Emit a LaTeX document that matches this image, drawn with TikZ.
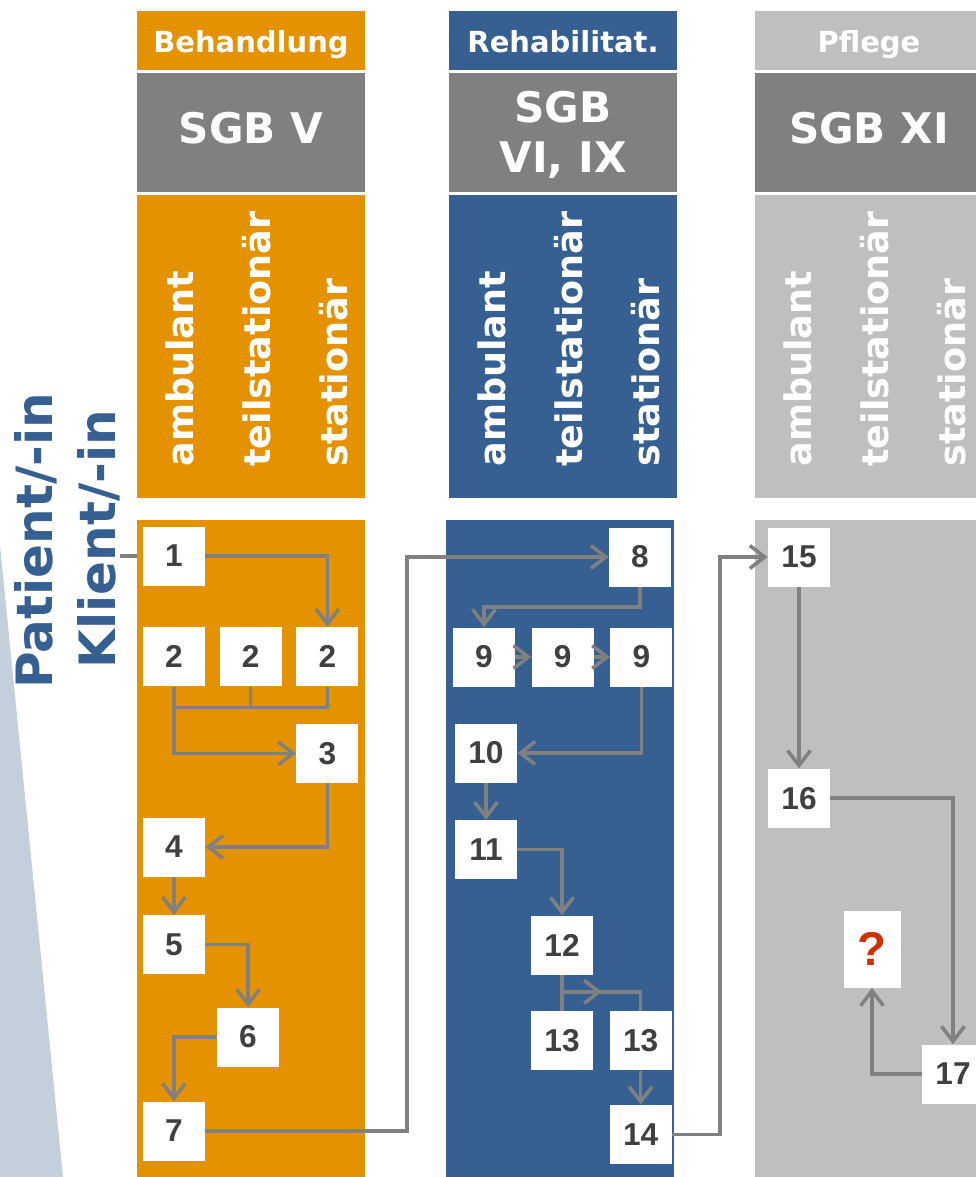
\documentclass[tikz,border=0pt]{standalone}
\usepackage{fontspec}
\setmainfont{DejaVu Sans}
\newfontfamily\numfont{Liberation Sans}
\usepackage{xcolor}
\usetikzlibrary{arrows.meta, positioning, calc, backgrounds}

\definecolor{behcol}{RGB}{229,146,0}
\definecolor{rehcol}{RGB}{54,96,146}
\definecolor{pflcol}{RGB}{191,191,191}
\definecolor{sgbcol}{RGB}{128,128,128}
\definecolor{wedgecol}{RGB}{195,207,219}
\definecolor{numcol}{RGB}{64,64,64}
\definecolor{linecol}{RGB}{128,128,128}
\definecolor{askcol}{RGB}{204,51,0}

\begin{document}
\begin{tikzpicture}[
  x=0.02cm, y=-0.02cm,
  node distance=0.74cm and 0.28cm,
  box/.style={fill=white, minimum width=1.24cm, minimum height=1.18cm, inner sep=0pt,
    text=numcol, font=\numfont\bfseries\fontsize{18}{20}\selectfont},
  line/.style={draw=linecol, line width=2pt},
  arrow/.style={line, -{Straight Barb[length=8.5pt, width=13pt]}},
  head/.style={text=white, anchor=base, font=\bfseries\fontsize{16.5}{19}\selectfont},
  sgb/.style={text=white, align=center, font=\bfseries\fontsize{24}{28.5}\selectfont},
  kind/.style={text=white, rotate=90, anchor=base west, inner sep=0pt,
    font=\bfseries\fontsize{20.8}{25}\selectfont},
  who/.style={text=rehcol, rotate=90, anchor=base, inner sep=0pt,
    font=\bfseries\fontsize{28.5}{34}\selectfont}
]
\useasboundingbox (0,0) rectangle (975,1177);

% Columns
\fill[wedgecol] (0,545) -- (63,1177) -- (0,1177) -- cycle;
\foreach \lx/\bx/\col/\hd/\sg/\sy in {137/137/behcol/Behandlung/{SGB V}/128,
    449/446/rehcol/Rehabilitat./{SGB\\VI, IX}/135,
    755/755/pflcol/Pflege/{SGB XI}/128}{
  \fill[\col] (\lx,11) rectangle ++(228,59);
  \node[head] at (\lx+114,52) {\hd};
  \fill[sgbcol] (\lx,73) rectangle ++(228,119);
  \node[sgb] at (\lx+114,\sy) {\sg};
  \fill[\col] (\lx,195) rectangle ++(228,303);
  \foreach \dx/\kd in {56/ambulant, 133/teilstationär, 210/stationär}
    \node[kind] at (\lx+\dx,467) {\kd};
  \fill[\col] (\bx,520) rectangle ++(228,657);
}

\node[who] (patient) at (52,541) {Patient/-in};
\node[who] (client) at (115,539) {Klient/-in};

% Nodes
\node[box] (n1) at (174,556) {1};
\node[box, below=0.82cm of n1] (n2a) {2};
\node[box, right=of n2a] (n2b) {2};
\node[box, right=of n2b] (n2c) {2};
\node[box, below=of n2c] (n3) {3};
\node[box] (n4) at (174,847) {4};
\node[box, below=0.76cm of n4] (n5) {5};
\node[box] (n6) at (248,1037) {6};
\node[box] (n7) at (174,1131) {7};

\node[box] (n8) at (640,557) {8};
\node[box] (n9a) at (484,657) {9};
\node[box, right=0.32cm of n9a] (n9b) {9};
\node[box, right=0.32cm of n9b] (n9c) {9};
\node[box] (n10) at (486,753) {10};
\node[box, below=of n10] (n11) {11};
\node[box] (n12) at (562,945) {12};
\node[box, below=0.72cm of n12] (n13a) {13};
\node[box, right=0.32cm of n13a] (n13b) {13};
\node[box, below=0.68cm of n13b] (n14) {14};

\node[box] (n15) at (799,557) {15};
\node[box, below=3.63cm of n15] (n16) {16};
\node[box, minimum width=1.14cm, minimum height=1.54cm, text=askcol,
  font=\numfont\bfseries\fontsize{27}{30}\selectfont] (ask) at (872,949) {?};
\node[box] (n17) at (953,1074) {17};

\coordinate (fork) at ($(n12.south)+(0,17)$);

% Pointers
\begin{scope}[on background layer]
\draw[line] (client.south |- n1) -- (n1);
\end{scope}
\draw[arrow] (n1) -| (n2c);
\draw[line] (n2a.south) -- ++(0,21) -| (n2c.south);
\draw[line] (n2b.south) -- ++(0,21);
\draw[arrow] (n2a.south) |- (n3);
\draw[arrow] (n3) |- (n4);
\draw[arrow] (n4) -- (n5);
\draw[arrow] (n5) -| (n6);
\draw[arrow] (n6) -| (n7);
\draw[arrow] (n7) -| ($(n7)!.5!(n8)$) |- (n8);

\draw[arrow] (n8) |- ($(n8)!.5!(n9a)$) -| (n9a);
\draw[arrow] (n9a) -- (n9b);
\draw[arrow] (n9b) -- (n9c);
\draw[arrow] (n9c) |- (n10);
\draw[arrow] (n10) -- (n11);
\draw[arrow] (n11) -| (n12);
\draw[line] (n12) -- (n13a);
\draw[line] (fork) -| (n13b);
\draw[arrow] (fork) -- ++(40,0);
\draw[arrow] (n13b) -- (n14);
\draw[arrow] (n14) -| ($(n14)!.5!(n15)$) |- (n15);

\draw[arrow] (n15) -- (n16);
\draw[arrow] (n16) -| (n17);
\draw[arrow] (n17) -| (ask);
\end{tikzpicture}
\end{document}
